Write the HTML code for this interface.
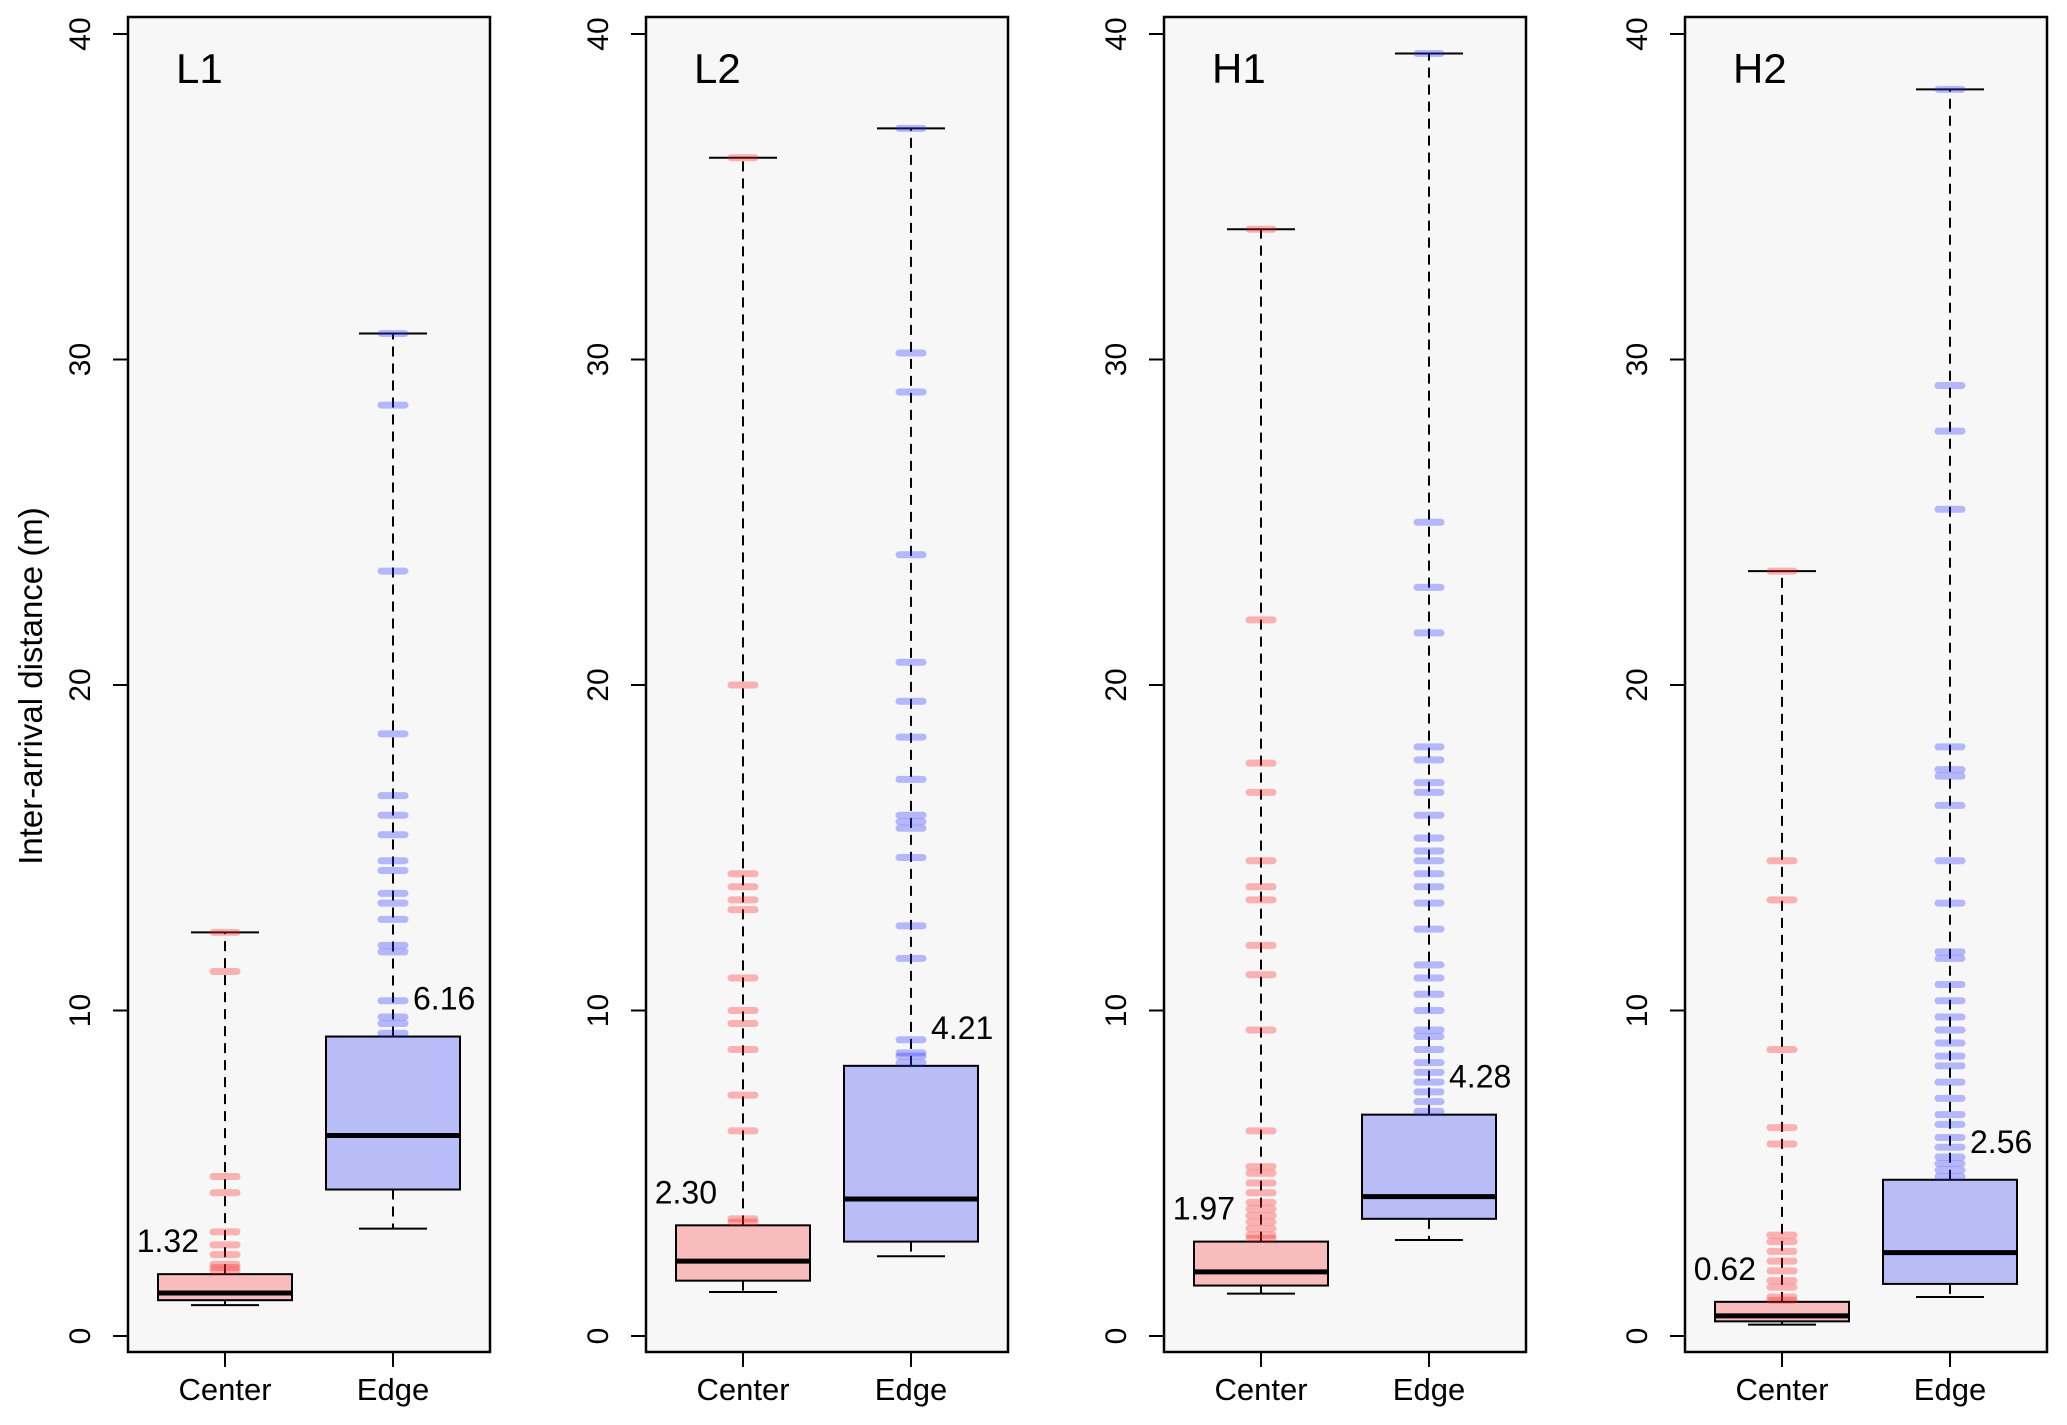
<!DOCTYPE html>
<html><head><meta charset="utf-8"><style>
html,body{margin:0;padding:0;background:#fff;}
svg{display:block;font-family:"Liberation Sans",Arial,sans-serif;}
</style></head><body>
<svg id="chart" width="2067" height="1425" viewBox="0 0 2067 1425" xmlns="http://www.w3.org/2000/svg">
<text x="0" y="0" transform="translate(42,686) rotate(-90)" font-size="33" text-anchor="middle">Inter-arrival distance (m)</text>
</svg>
<script>
const panels = ["L1","L2","H1","H2"];
const categories = ["Center","Edge"];
const yTicks = [0,10,20,30,40];
const q1 = [[1.1,4.5],[1.7,2.9],[1.55,3.6],[0.45,1.6]];
const medians = [[1.32,6.16],[2.30,4.21],[1.97,4.28],[0.62,2.56]];
const medianLabels = [["1.32","6.16"],["2.30","4.21"],["1.97","4.28"],["0.62","2.56"]];
const q3 = [[1.9,9.2],[3.4,8.3],[2.9,6.8],[1.05,4.8]];
const whiskLow = [[0.95,3.3],[1.35,2.45],[1.3,2.95],[0.35,1.2]];
const whiskHigh = [[12.4,30.8],[36.2,37.1],[34.0,39.4],[23.5,38.3]];
const outL1C = [2.0,2.1,2.2,2.5,2.8,3.2,4.4,4.9,11.2,12.4];
const outL1E = [9.3,9.6,9.8,10.3,11.8,12.0,12.8,13.3,13.6,14.3,14.6,15.4,16.0,16.6,18.5,23.5,28.6,30.8];
const outL2C = [3.5,3.6,6.3,7.4,8.8,9.6,10.0,11.0,13.1,13.4,13.8,14.2,20.0,36.2];
const outL2E = [8.4,8.6,8.7,9.1,11.6,12.6,14.7,15.6,15.8,16.0,17.1,18.4,19.5,20.7,24.0,29.0,30.2,37.1];
const outH1C = [3.0,3.1,3.3,3.5,3.7,3.9,4.1,4.4,4.7,5.0,5.2,6.3,9.4,11.1,12.0,13.4,13.8,14.6,16.7,17.6,22.0,34.0];
const outH1E = [6.9,7.2,7.5,7.8,8.1,8.4,8.8,9.2,9.4,10.0,10.5,11.0,11.4,12.5,13.3,13.8,14.2,14.6,14.9,15.3,16.0,16.7,17.0,17.7,18.1,21.6,23.0,25.0,39.4];
const outH2C = [1.1,1.2,1.5,1.7,2.0,2.3,2.6,2.9,3.1,5.9,6.4,8.8,13.4,14.6,23.5];
const outH2E = [4.9,5.1,5.3,5.5,5.8,6.1,6.5,6.8,7.3,7.8,8.3,8.6,9.0,9.4,9.8,10.3,10.8,11.6,11.8,13.3,14.6,16.3,17.2,17.4,18.1,25.4,27.8,29.2,38.3];
const outliers = [[outL1C,outL1E],[outL2C,outL2E],[outH1C,outH1E],[outH2C,outH2E]];

const NS="http://www.w3.org/2000/svg";
const svg=document.getElementById('chart');
const panelLeft=[128,646,1164,1685], panelW=362, plotTop=17, plotBottom=1352;
const yScale=v=>1336-(v)*(1336-34)/40;
const fills=["#f9bcbc","#b8bcf7"], outCol=["rgba(255,30,30,0.32)","rgba(40,50,255,0.32)"];
function mk(tag,attrs,parent){const e=document.createElementNS(NS,tag);for(const k in attrs)e.setAttribute(k,attrs[k]);(parent||svg).appendChild(e);return e;}
panels.forEach((p,pi)=>{
  const L=panelLeft[pi];
  const g=mk('g',{});
  
  
  const bg=mk('rect',{x:L,y:plotTop,width:panelW,height:plotBottom-plotTop,fill:'#f7f7f7',stroke:'#000','stroke-width':2.5},g);
  
  
  const t=mk('text',{x:L+48,y:83,'font-size':42},g);t.textContent=p;
  
  
  yTicks.forEach(v=>{
    mk('line',{x1:L-15,x2:L,y1:yScale(v),y2:yScale(v),stroke:'#000','stroke-width':2},g);
    const tl=mk('text',{transform:`translate(${L-38},${yScale(v)}) rotate(-90)`,'font-size':30,'text-anchor':'middle'},g);
    tl.textContent=v;
    
    
  });
  categories.forEach((c,ci)=>{
    const cx=L+97+ci*168;
    mk('line',{x1:cx,x2:cx,y1:plotBottom,y2:plotBottom+15,stroke:'#000','stroke-width':2},g);
    const xl=mk('text',{x:cx,y:1400,'font-size':31,'text-anchor':'middle'},g);xl.textContent=c;
    
    
    const bx=mk('g',{},g);
    
    
    mk('line',{x1:cx,x2:cx,y1:yScale(q3[pi][ci]),y2:yScale(whiskHigh[pi][ci]),stroke:'#000','stroke-width':2,'stroke-dasharray':'10,7'},bx);
    mk('line',{x1:cx,x2:cx,y1:yScale(q1[pi][ci]),y2:yScale(whiskLow[pi][ci]),stroke:'#000','stroke-width':2,'stroke-dasharray':'10,7'},bx);
    mk('line',{x1:cx-34,x2:cx+34,y1:yScale(whiskHigh[pi][ci]),y2:yScale(whiskHigh[pi][ci]),stroke:'#000','stroke-width':2},bx);
    mk('line',{x1:cx-34,x2:cx+34,y1:yScale(whiskLow[pi][ci]),y2:yScale(whiskLow[pi][ci]),stroke:'#000','stroke-width':2},bx);
    mk('rect',{x:cx-67,y:yScale(q3[pi][ci]),width:134,height:yScale(q1[pi][ci])-yScale(q3[pi][ci]),fill:fills[ci],stroke:'#000','stroke-width':2},bx);
    mk('line',{x1:cx-67,x2:cx+67,y1:yScale(medians[pi][ci]),y2:yScale(medians[pi][ci]),stroke:'#000','stroke-width':5},bx);
    outliers[pi][ci].forEach(v=>{
      const o=mk('line',{x1:cx-12,x2:cx+12,y1:yScale(v),y2:yScale(v),stroke:outCol[ci],'stroke-width':7,'stroke-linecap':'round'},bx);
      
      
    });
    const lb=mk('text',{'font-size':32},g);
    lb.textContent=medianLabels[pi][ci];
    
    
    if(ci===0){lb.setAttribute('x',cx-26);lb.setAttribute('text-anchor','end');lb.setAttribute('y',yScale(q3[pi][ci])-22);}
    else{lb.setAttribute('x',cx+20);lb.setAttribute('y',yScale(q3[pi][ci])-27);}
  });
});
</script>
</body></html>
